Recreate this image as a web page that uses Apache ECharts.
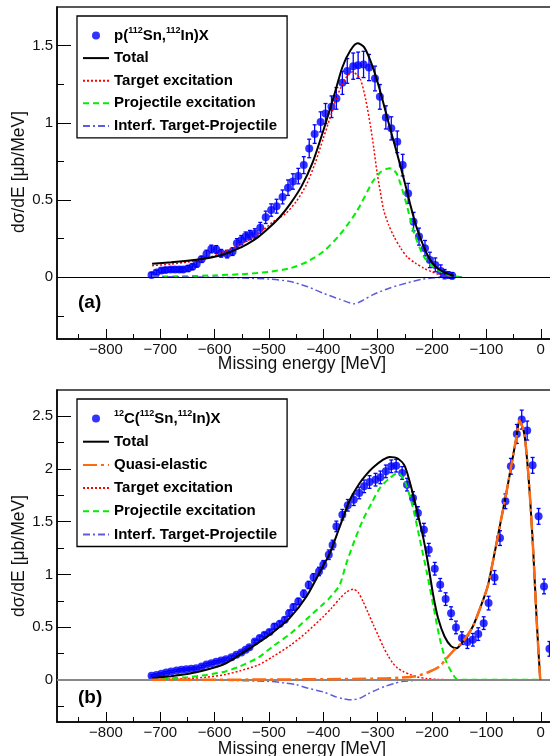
<!DOCTYPE html>
<html>
<head>
<meta charset="utf-8">
<script src="https://cdn.jsdelivr.net/npm/echarts@6/dist/echarts.min.js"></script>
<style>
html,body{margin:0;padding:0;background:#fff;overflow:hidden;}
#chart{width:600px;height:756px;}
</style>
</head>
<body>
<div id="chart"></div>
<script>
// axis ticks
var xMajor = [-800, -700, -600, -500, -400, -300, -200, -100, 0];
var xMinor = [-850, -750, -650, -550, -450, -350, -250, -150, -50];
var yMajorA = [0, 0.5, 1, 1.5];
var yMinorA = [-0.25, 0.25, 0.75, 1.25];
var yMajorB = [0, 0.5, 1, 1.5, 2, 2.5];
var yMinorB = [-0.25, 0.25, 0.75, 1.25, 1.75, 2.25];

// (a) p(112Sn,112In)X data
var aE = [-716,-707,-698,-690,-681,-673,-665,-658,-649,-641,
          -633,-624,-615,-606,-597,-588,-577,-567,-559,-551,
          -543,-535,-526,-516,-506,-496,-486,-475,-465,-456,
          -446,-436,-426,-416,-405,-396,-385,-376,-365,-356,
          -345,-336,-326,-316,-305,-296,-285,-275,-264,-254,
          -244,-234,-224,-213,-204,-194,-184,-177,-170,-163];
var aY = [0.015,0.03,0.043,0.047,0.05,0.05,0.05,0.05,0.057,0.068,
          0.086,0.116,0.15,0.183,0.18,0.155,0.15,0.166,0.22,0.24,
          0.263,0.273,0.284,0.32,0.388,0.435,0.46,0.52,0.58,0.62,
          0.655,0.726,0.834,0.927,1.006,1.06,1.104,1.158,1.259,1.336,
          1.367,1.373,1.378,1.358,1.287,1.168,1.035,0.964,0.877,0.726,
          0.543,0.36,0.263,0.188,0.112,0.08,0.04,0.02,0.015,0.01];
var aErr = [0.015,0.015,0.015,0.015,0.015,0.015,0.015,0.015,0.018,0.018,
            0.02,0.02,0.025,0.025,0.025,0.025,0.025,0.025,0.03,0.03,
            0.03,0.03,0.03,0.035,0.04,0.04,0.045,0.045,0.05,0.05,
            0.05,0.055,0.06,0.06,0.065,0.065,0.07,0.07,0.075,0.08,
            0.085,0.085,0.085,0.085,0.08,0.08,0.075,0.075,0.07,0.07,
            0.065,0.06,0.055,0.05,0.05,0.045,0.04,0.03,0.02,0.02];

var aTotal = [[-715,0.088],[-680,0.097],[-650,0.107],[-620,0.12],[-600,0.132],[-580,0.152],[-560,0.18],
    [-540,0.215],[-520,0.26],[-500,0.32],[-480,0.39],[-460,0.48],[-440,0.59],[-420,0.74],[-400,0.95],
    [-380,1.18],[-365,1.36],[-350,1.47],[-337,1.515],[-325,1.49],[-310,1.37],[-295,1.2],[-280,1.0],
    [-265,0.81],[-250,0.61],[-240,0.47],[-230,0.34],[-220,0.24],[-210,0.155],[-200,0.095],[-190,0.058],
    [-180,0.036],[-170,0.02],[-160,0.01]];
var aTarget = [[-715,0.075],[-680,0.085],[-650,0.098],[-615,0.123],[-585,0.16],[-554,0.21],[-520,0.28],
    [-492,0.36],[-470,0.41],[-450,0.49],[-431,0.6],[-415,0.74],[-400,0.9],[-385,1.06],[-376,1.16],
    [-365,1.25],[-357,1.3],[-346,1.33],[-338,1.31],[-331,1.276],[-322,1.15],[-313,0.974],[-307,0.83],
    [-301,0.673],[-295,0.55],[-289,0.435],[-280,0.34],[-270,0.263],[-258,0.19],[-246,0.133],[-230,0.09],
    [-215,0.058],[-200,0.035],[-185,0.015],[-165,0.005]];
var aProj = [[-715,0.004],[-650,0.007],[-600,0.012],[-550,0.02],[-500,0.035],[-461,0.058],[-430,0.1],
    [-400,0.166],[-370,0.274],[-339,0.424],[-309,0.62],[-295,0.68],[-285,0.7],[-275,0.705],[-265,0.67],
    [-255,0.57],[-246,0.46],[-233,0.285],[-215,0.133],[-200,0.075],[-190,0.047],[-175,0.02],[-165,0.01],
    [-145,0.0]];
var aInterf = [[-715,0.004],[-650,0.002],[-600,0.0],[-550,-0.005],[-500,-0.012],[-461,-0.028],[-430,-0.06],
    [-400,-0.104],[-370,-0.142],[-342,-0.172],[-325,-0.145],[-309,-0.114],[-279,-0.071],[-248,-0.039],
    [-218,-0.013],[-187,-0.002],[-145,0.0]];

// (b) 12C(112Sn,112In)X data
var bE = [-716,-707,-698,-689,-680,-670,-661,-652,-643,-634,
          -624,-615,-606,-597,-588,-579,-569,-560,-551,-543,
          -536,-526,-517,-508,-499,-490,-480,-471,-463,-455,
          -446,-436,-427,-418,-408,-400,-390,-383,-376,-365,
          -355,-344,-334,-325,-315,-304,-295,-285,-275,-266,
          -255,-246,-235,-226,-215,-206,-195,-185,-175,-165,
          -156,-145,-135,-125,-115,-105,-96,-85,-75,-65,
          -55,-44,-35,-25,-15,-4,6,16];
var bY = [0.038,0.047,0.057,0.07,0.079,0.089,0.095,0.101,0.105,0.111,
          0.127,0.146,0.158,0.171,0.184,0.196,0.215,0.237,0.26,0.285,
          0.31,0.364,0.396,0.427,0.453,0.507,0.532,0.57,0.633,0.69,
          0.744,0.817,0.9,0.973,1.028,1.092,1.187,1.28,1.456,1.567,
          1.656,1.709,1.773,1.836,1.877,1.899,1.921,1.978,2.026,2.032,
          1.963,1.852,1.725,1.583,1.425,1.235,1.054,0.902,0.766,0.633,
          0.497,0.396,0.358,0.38,0.434,0.538,0.728,0.972,1.345,1.694,
          2.026,2.333,2.469,2.365,2.035,1.551,0.886,0.294];
var bErr = [0.01,0.01,0.01,0.01,0.01,0.01,0.01,0.01,0.01,0.01,
            0.012,0.012,0.012,0.012,0.012,0.012,0.012,0.012,0.012,0.012,
            0.015,0.015,0.02,0.02,0.02,0.025,0.025,0.025,0.03,0.03,
            0.03,0.035,0.035,0.035,0.04,0.04,0.045,0.045,0.05,0.05,
            0.055,0.055,0.055,0.06,0.06,0.06,0.06,0.06,0.06,0.06,
            0.06,0.06,0.06,0.06,0.06,0.06,0.06,0.06,0.06,0.06,
            0.06,0.06,0.06,0.06,0.06,0.06,0.065,0.065,0.07,0.07,
            0.075,0.09,0.09,0.09,0.075,0.075,0.07,0.07];

var bTotal = [[-715,0.016],[-680,0.035],[-650,0.055],[-615,0.095],[-580,0.155],[-554,0.237],[-520,0.35],
    [-493,0.45],[-462,0.586],[-431,0.79],[-401,1.076],[-388,1.2],[-370,1.45],[-351,1.709],[-333,1.867],
    [-321,1.947],[-308,2.016],[-290,2.089],[-278,2.115],[-263,2.1],[-250,2.026],[-238,1.82],[-226,1.567],
    [-216,1.345],[-207,1.092],[-198,0.807],[-189,0.586],[-177,0.411],[-165,0.32],[-155,0.3],[-143,0.364],
    [-125,0.506],[-107,0.744],[-97,0.9],[-88,1.124],[-79,1.36],[-70,1.6],[-62,1.81],[-55,2.01],
    [-45,2.295],[-39,2.46],[-30,2.327],[-21,1.82],[-13.5,1.187],[-7.4,0.554],[-1,0]];
var bQE = [[-715,0],[-600,0.001],[-500,0.003],[-400,0.006],[-300,0.012],[-260,0.02],[-229,0.035],
    [-204,0.079],[-186,0.127],[-174,0.2],[-159,0.285],[-143,0.364],[-125,0.506],[-107,0.744],[-97,0.9],
    [-88,1.124],[-79,1.36],[-70,1.6],[-62,1.81],[-55,2.01],[-45,2.295],[-39,2.46],[-30,2.327],
    [-21,1.82],[-13.5,1.187],[-7.4,0.554],[-1,0]];
var bTarget = [[-715,0.003],[-650,0.012],[-615,0.025],[-580,0.05],[-554,0.085],[-520,0.14],[-493,0.22],
    [-460,0.33],[-431,0.45],[-400,0.6],[-385,0.68],[-370,0.77],[-357,0.835],[-345,0.86],[-336,0.83],
    [-327,0.744],[-318,0.64],[-308,0.522],[-299,0.42],[-290,0.317],[-281,0.23],[-272,0.158],[-263,0.11],
    [-253,0.079],[-240,0.05],[-229,0.03],[-210,0.012],[-190,0.004],[-150,0.0],[0,0]];
var bProj = [[-715,0.006],[-680,0.015],[-650,0.025],[-615,0.047],[-580,0.08],[-554,0.127],[-520,0.21],
    [-493,0.317],[-460,0.44],[-431,0.575],[-400,0.72],[-388,0.78],[-370,0.9],[-358,1.1],[-342,1.33],
    [-327,1.52],[-311,1.68],[-296,1.82],[-278,1.915],[-263,1.963],[-250,1.884],[-235,1.63],[-223,1.345],
    [-210,1.03],[-198,0.712],[-186,0.396],[-174,0.174],[-161,0.047],[-152,0.0],[0,0]];
var bInterf = [[-715,0.0],[-600,-0.003],[-500,-0.015],[-470,-0.03],[-450,-0.045],[-428,-0.08],[-400,-0.115],
    [-379,-0.158],[-365,-0.178],[-348,-0.19],[-333,-0.175],[-318,-0.133],[-300,-0.09],[-287,-0.063],
    [-270,-0.035],[-256,-0.016],[-230,-0.005],[-210,0.0],[0,0]];

var FONT = '"Liberation Sans", Arial, sans-serif';
var BLUE = '#0000ff';
var GRID_W = 505.5, GRID_H = 332;

function xAxes(g){
    return [{
        type:'value', gridIndex:g, min:-890, max:40, position:'bottom',
        axisLine:{show:true, onZero:false, lineStyle:{color:'#000', width:1.5}},
        axisTick:{show:true, inside:true, length:10, customValues:xMajor, lineStyle:{color:'#000', width:1}},
        axisLabel:{customValues:xMajor, margin:3, fontSize:15, fontFamily:FONT, color:'#111',
            formatter:function(v){ return v < 0 ? '\u2212' + (-v) : '' + v; }},
        splitLine:{show:false}
    },{
        // minor ticks: a top axis pulled down onto the bottom edge
        type:'value', gridIndex:g, min:-890, max:40, position:'top', offset:-GRID_H,
        axisLine:{show:false, onZero:false},
        axisTick:{show:true, inside:false, length:5, customValues:xMinor, lineStyle:{color:'#000', width:1}},
        axisLabel:{show:false},
        splitLine:{show:false}
    }];
}
function yAxes(g, max, major, minor){
    return [{
        type:'value', gridIndex:g, min:-0.4, max:max, position:'left',
        axisLine:{show:true, onZero:false, lineStyle:{color:'#000', width:1.5}},
        axisTick:{show:true, inside:true, length:14, customValues:major, lineStyle:{color:'#000', width:1}},
        axisLabel:{customValues:major, margin:4, fontSize:15, fontFamily:FONT, color:'#111'},
        splitLine:{show:false}
    },{
        // minor ticks: a right axis pulled over onto the left edge
        type:'value', gridIndex:g, min:-0.4, max:max, position:'right', offset:-GRID_W,
        axisLine:{show:false, onZero:false},
        axisTick:{show:true, inside:false, length:7, customValues:minor, lineStyle:{color:'#000', width:1}},
        axisLabel:{show:false},
        splitLine:{show:false}
    }];
}

function errBar(params, api){
    var lo = api.coord([api.value(0), api.value(1)]);
    var hi = api.coord([api.value(0), api.value(2)]);
    var st = {stroke:BLUE, lineWidth:1.3};
    return {type:'group', children:[
        {type:'line', shape:{x1:lo[0], y1:lo[1], x2:hi[0], y2:hi[1]}, style:st},
        {type:'line', shape:{x1:lo[0]-2, y1:lo[1], x2:lo[0]+2, y2:lo[1]}, style:st},
        {type:'line', shape:{x1:hi[0]-2, y1:hi[1], x2:hi[0]+2, y2:hi[1]}, style:st}
    ]};
}

function pts(E, Y){ return E.map(function(e, i){ return [e, Y[i]]; }); }
function bars(E, Y, R){ return E.map(function(e, i){ return [e, Y[i] - R[i], Y[i] + R[i]]; }); }

function curve(name, ax, data, color, width, type, z){
    return {
        name:name, type:'line', xAxisIndex:ax, yAxisIndex:ax, data:data,
        symbol:'none', smooth:0.25, z:z,
        lineStyle:{color:color, width:width, type:type},
        itemStyle:{color:color}
    };
}

function panelSeries(p, ax, E, Y, R, zeroColor, zeroWidth){
    return [{
        name:p + '|err', type:'custom', xAxisIndex:ax, yAxisIndex:ax,
        renderItem:errBar, data:bars(E, Y, R), encode:{x:0, y:[1, 2]}, z:2,
        markLine:{silent:true, symbol:['none','none'], label:{show:false},
            lineStyle:{color:zeroColor, width:zeroWidth, type:'solid'},
            data:[{yAxis:0}]}
    },{
        name:p + '|data', type:'scatter', xAxisIndex:ax, yAxisIndex:ax,
        data:pts(E, Y), symbol:'circle', symbolSize:8, itemStyle:{color:BLUE}, z:3
    }];
}

var RED = '#ff0000', GREEN = '#00ee00', VIOLET = '#5c5ce0', ORANGE = '#ff6a10';

var series = []
    .concat(panelSeries('a', 0, aE, aY, aErr, '#000', 1))
    .concat([
        curve('a|Target excitation', 0, aTarget, RED, 1.5, [2, 2], 4),
        curve('a|Projectile excitation', 0, aProj, GREEN, 2, [6, 4], 4),
        curve('a|Interf. Target-Projectile', 0, aInterf, VIOLET, 1.5, [7, 3, 2, 3], 4),
        curve('a|Total', 0, aTotal, '#000', 2, 'solid', 5)
    ])
    .concat(panelSeries('b', 2, bE, bY, bErr, '#888', 2))
    .concat([
        curve('b|Target excitation', 2, bTarget, RED, 1.5, [2, 2], 4),
        curve('b|Projectile excitation', 2, bProj, GREEN, 2, [6, 4], 4),
        curve('b|Interf. Target-Projectile', 2, bInterf, VIOLET, 1.5, [7, 3, 2, 3], 4),
        curve('b|Total', 2, bTotal, '#000', 2, 'solid', 5),
        curve('b|Quasi-elastic', 2, bQE, ORANGE, 2.5, [14, 4, 3, 4], 6)
    ]);

var rich = {
    n:{fontSize:15, fontWeight:'bold', fontFamily:FONT, color:'#000', lineHeight:18},
    s:{fontSize:9, fontWeight:'bold', fontFamily:FONT, color:'#000', lineHeight:12, verticalAlign:'top'}
};
function legendText(name){
    var p = name.split('|');
    if (p[1] == 'data') {
        if (p[0] == 'a') return '{n|p(}{s|112}{n|Sn,}{s|112}{n|In)X}';
        return '{s|12}{n|C(}{s|112}{n|Sn,}{s|112}{n|In)X}';
    }
    return '{n|' + p[1] + '}';
}
function legend(top, names, gap){
    // only the data entry keeps its marker; lines show just the stroke
    var data = names.map(function(n){
        return n.indexOf('|data') > 0 ? {name:n} : {name:n, itemStyle:{opacity:0}};
    });
    return {
        orient:'vertical', left:77, top:top, data:data, formatter:legendText,
        itemWidth:26, itemHeight:8, itemGap:gap, padding:[10.5, 10, 3, 5],
        borderColor:'#000', borderWidth:1.3, backgroundColor:'#fff', selectedMode:false,
        textStyle:{fontFamily:FONT, fontSize:15, fontWeight:'bold', color:'#000', lineHeight:18, rich:rich}
    };
}

var option = {
    animation:false,
    backgroundColor:'#fff',
    grid:[
        {left:57, top:7, width:GRID_W, height:GRID_H, show:true, borderColor:'#222', borderWidth:1.5, backgroundColor:'transparent'},
        {left:57, top:390, width:GRID_W, height:GRID_H, show:true, borderColor:'#222', borderWidth:1.5, backgroundColor:'transparent'}
    ],
    xAxis:xAxes(0).concat(xAxes(1)),
    yAxis:yAxes(0, 1.75, yMajorA, yMinorA).concat(yAxes(1, 2.75, yMajorB, yMinorB)),
    legend:[
        legend(16, ['a|data', 'a|Total', 'a|Target excitation', 'a|Projectile excitation', 'a|Interf. Target-Projectile'], 4.6),
        legend(399, ['b|data', 'b|Total', 'b|Quasi-elastic', 'b|Target excitation', 'b|Projectile excitation', 'b|Interf. Target-Projectile'], 5.2)
    ],
    graphic:[
        {type:'text', x:302, y:364, style:{text:'Missing energy [MeV]', font:'17.5px ' + FONT, fill:'#111', align:'center', verticalAlign:'middle'}},
        {type:'text', x:302, y:749, style:{text:'Missing energy [MeV]', font:'17.5px ' + FONT, fill:'#111', align:'center', verticalAlign:'middle'}},
        {type:'text', x:19, y:172, rotation:Math.PI / 2, style:{text:'d\u03c3/dE [\u03bcb/MeV]', font:'17.5px ' + FONT, fill:'#111', align:'center', verticalAlign:'middle'}},
        {type:'text', x:19, y:556, rotation:Math.PI / 2, style:{text:'d\u03c3/dE [\u03bcb/MeV]', font:'17.5px ' + FONT, fill:'#111', align:'center', verticalAlign:'middle'}},
        {type:'text', x:78, y:302.5, style:{text:'(a)', font:'bold 19px ' + FONT, fill:'#000', align:'left', verticalAlign:'middle'}},
        {type:'text', x:78, y:697.5, style:{text:'(b)', font:'bold 19px ' + FONT, fill:'#000', align:'left', verticalAlign:'middle'}}
    ],
    series:series
};

var chart = echarts.init(document.getElementById('chart'), null, {renderer:'canvas'});
chart.setOption(option);
</script>
</body>
</html>
